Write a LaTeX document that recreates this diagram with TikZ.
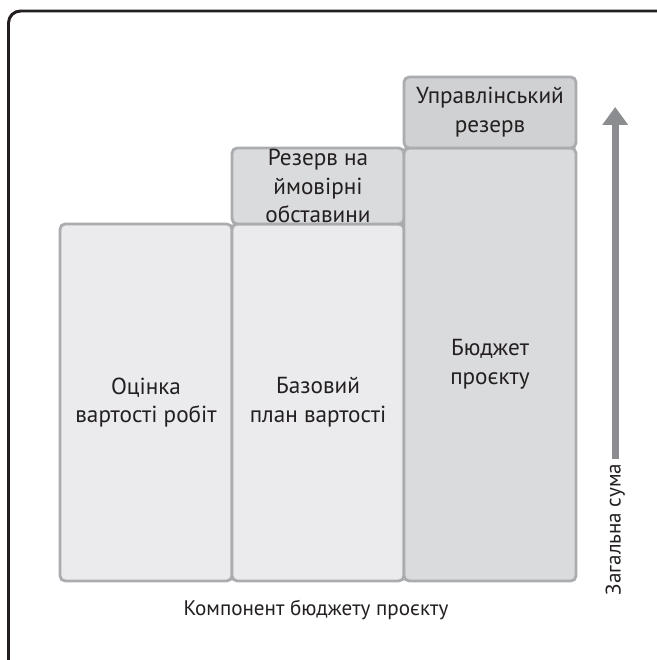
\documentclass[tikz,border=0pt]{standalone}
\usepackage{fontspec}
\setmainfont{PT Sans}
\usetikzlibrary{arrows.meta, positioning}

\definecolor{ink}{HTML}{231F20}
\definecolor{edge}{HTML}{ABACAF}
\definecolor{lightfill}{HTML}{EBEBED}
\definecolor{midfill}{HTML}{DADBDD}
\definecolor{darkfill}{HTML}{D0D1D3}
\definecolor{arrowgray}{HTML}{8C8D90}

\begin{document}
\begin{tikzpicture}[
    >=Stealth,
    block/.style={draw=edge, line width=2pt, rounded corners=0.13cm,
                  align=center, text=ink, font=\fontsize{16.5}{20.5}\selectfont,
                  minimum width=4.3cm, inner sep=0pt, outer sep=0pt},
    axislabel/.style={text=ink, font=\fontsize{15}{18}\selectfont}
  ]
  \useasboundingbox (0, 0) rectangle (16.425, 16.5);
  \clip (0, 0) rectangle (16.425, 16.5);

  % Outer frame
  \draw[ink, line width=2.1pt, rounded corners=0.3cm]
    (0.2125, -1) rectangle (17.5, 16.225);

  % Budget blocks
  \node[block, fill=lightfill, minimum height=8.925cm] (estimate)
    at (3.65, 6.4375) {Оцінка\\вартості робіт};
  \node[block, fill=lightfill, minimum height=8.925cm, right=0cm of estimate]
    (baseline) {Базовий\\план вартості};
  \node[block, fill=midfill, minimum height=1.9cm, above=0cm of baseline]
    (contingency) {Резерв на\\ймовірні\\обставини};
  \node[block, fill=midfill, minimum height=10.825cm, anchor=south west]
    (budget) at (baseline.south east) {Бюджет\\проєкту};
  \node[block, fill=darkfill, minimum height=1.775cm, above=0cm of budget]
    (management) {Управлінський\\резерв};

  % Axes
  \node[axislabel] (component) at (7.9, 1.25) {Компонент бюджету проєкту};
  \node[axislabel, rotate=90, anchor=west] (total) at (15.38, 1.5) {Загальна сума};
  \coordinate (peak) at (15.38, 13.825);
  \draw[arrowgray, line width=5pt, -{Triangle[width=0.62cm, length=0.45cm]}]
    (total.east) -- (peak);
\end{tikzpicture}
\end{document}
